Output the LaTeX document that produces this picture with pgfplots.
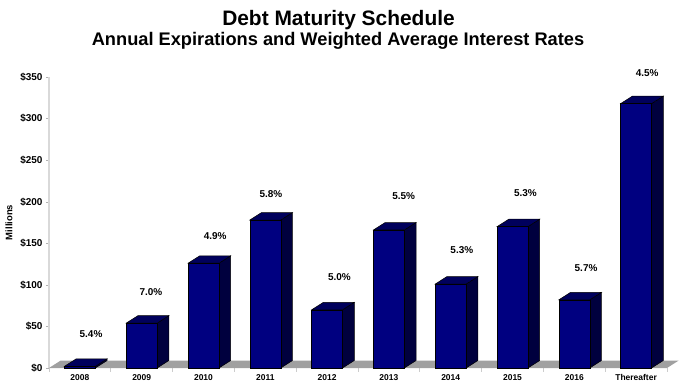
\documentclass[border=0pt]{standalone}
\usepackage{pgfplots}
\pgfplotsset{compat=1.18}
\usepackage{pgfplotstable}
\usepackage{fontspec}
\setmainfont{Liberation Sans}
\definecolor{frontc}{RGB}{0,0,128}
\definecolor{sidec}{RGB}{0,0,62}
\definecolor{topc}{RGB}{0,0,92}
\definecolor{floorc}{RGB}{160,160,160}

\pgfplotstableread{
x val lab labx laby
0 2 5.4 0.18 41
1 54 7.0 1.15 91
2 126 4.9 2.19 159
3 178 5.8 3.09 209
4 70 5.0 4.20 109
5 166 5.5 5.24 207
6 101 5.3 6.18 142
7 170 5.3 7.21 210
8 82 5.7 8.19 120
9 318 4.5 9.18 355
}\debt

\begin{document}
\begin{tikzpicture}
\path[use as bounding box] (-49bp,-20bp) rectangle (631bp,368bp);
\begin{axis}[
  at={(0,0)}, anchor=south west,
  width=618bp, height=291bp, scale only axis,
  xmin=-0.5, xmax=9.5, ymin=0, ymax=350,
  clip=false,
  axis lines*=left,
  x axis line style={draw=none},
  y axis line style={draw=black!15, line width=1.5bp},
  tick align=outside,
  xtick={0,...,9},
  xticklabels={2008,2009,2010,2011,2012,2013,2014,2015,2016,Thereafter},
  major x tick style={draw=none},
  minor xtick={-0.5,0.5,...,9.5},
  minor x tick style={draw=black!20, line width=0.8bp},
  minor tick length=4bp,
  ytick={0,50,...,350},
  yticklabels={\$0,\$50,\$100,\$150,\$200,\$250,\$300,\$350},
  major y tick style={draw=black!30},
  major tick length=3bp,
  xticklabel style={font=\bfseries\fontsize{8.5}{10}\selectfont},
  yticklabel style={font=\bfseries\fontsize{10}{12}\selectfont},
]
% floor
\addplot[fill=floorc, draw=none, mark=none] coordinates {(-0.5,0) (9.5,0) (9.69,9) (-0.31,9)} -- cycle;
% 3D bars
\pgfplotsforeachungrouped \i in {0,...,9}{
  \pgfplotstablegetelem{\i}{val}\of\debt
  \let\v\pgfplotsretval
  \pgfmathsetmacro\xl{\i-0.25}
  \pgfmathsetmacro\xr{\i+0.25}
  \pgfmathsetmacro\xlb{\i-0.06}
  \pgfmathsetmacro\xrb{\i+0.44}
  \pgfmathsetmacro\vt{\v+9}
  \edef\tmp{%
    \noexpand\addplot[draw=black, fill=sidec, line width=0.5bp, mark=none] coordinates {(\xr,0) (\xrb,9) (\xrb,\vt) (\xr,\v)} -- cycle;
    \noexpand\addplot[draw=black, fill=topc, line width=0.5bp, mark=none] coordinates {(\xl,\v) (\xlb,\vt) (\xrb,\vt) (\xr,\v)} -- cycle;
    \noexpand\addplot[draw=black, fill=frontc, line width=0.5bp, mark=none] coordinates {(\xl,0) (\xr,0) (\xr,\v) (\xl,\v)} -- cycle;
  }\tmp
}
% rate labels
\addplot[draw=none, mark=none, nodes near coords={\pgfplotspointmeta\%}, point meta=explicit symbolic,
  nodes near coords style={anchor=center, font=\bfseries\fontsize{10}{12}\selectfont}]
  table[x=labx, y=laby, meta=lab]{\debt};
\end{axis}
\node[rotate=90, font=\bfseries\fontsize{9.5}{11}\selectfont] at (-40bp,145.5bp) {Millions};
\node[anchor=base, font=\bfseries\fontsize{21}{24}\selectfont] at (289.5bp,342bp) {Debt Maturity Schedule};
\node[anchor=base, font=\bfseries\fontsize{18.3}{21}\selectfont] at (289bp,322bp) {Annual Expirations and Weighted Average Interest Rates};
\end{tikzpicture}
\end{document}
